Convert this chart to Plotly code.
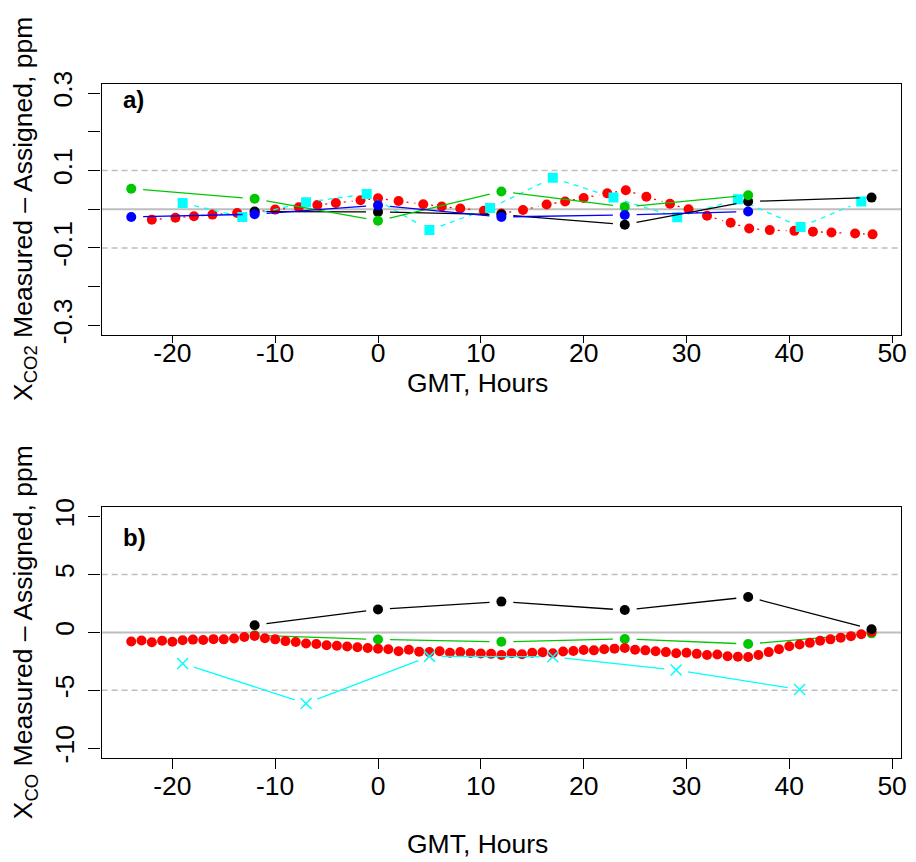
import math
import plotly.graph_objects as go

# ---------------- Panel a: CO2 differences (ppm) ----------------
red_a_hours = [-22.0, -19.7, -17.9, -16.1, -13.7, -12.0, -10.0, -7.7, -5.9, -4.1,
               -1.7, 0.0, 2.0, 4.4, 6.2, 8.0, 10.3, 12.0, 14.1, 16.4,
               18.2, 20.0, 22.3, 24.1, 26.1, 28.4, 30.2, 32.0, 34.3, 36.1,
               38.1, 40.5, 42.3, 44.1, 46.4, 48.1]
red_a_diff = [-0.027, -0.022, -0.018, -0.014, -0.010, -0.007, -0.001, 0.005, 0.011, 0.016,
              0.023, 0.028, 0.021, 0.013, 0.007, 0.002, -0.004, -0.011, -0.002, 0.012,
              0.020, 0.029, 0.041, 0.049, 0.032, 0.014, 0.000, -0.017, -0.035, -0.050,
              -0.054, -0.056, -0.058, -0.060, -0.063, -0.065]

cyan_a_hours = [-19.0, -13.2, -7.0, -1.1, 5.0, 10.9, 17.0, 22.9, 29.1, 35.0, 41.1, 47.0]
cyan_a_diff = [0.016, -0.020, 0.018, 0.039, -0.054, 0.003, 0.081, 0.030, -0.021, 0.026, -0.046, 0.020]

green_a_hours = [-24, -12, 0, 12, 24, 36]
green_a_diff = [0.053, 0.027, -0.030, 0.046, 0.006, 0.036]

blue_a_hours = [-24, -12, 0, 12, 24, 36]
blue_a_diff = [-0.020, -0.013, 0.010, -0.020, -0.015, -0.006]

black_a_hours = [-12, 0, 12, 24, 36, 48]
black_a_diff = [-0.006, -0.007, -0.014, -0.040, 0.020, 0.030]

# ---------------- Panel b: CO differences ----------------
red_b_hours = list(range(-24, 49))
red_b_diff = [-0.78, -0.70, -0.85, -0.72, -0.80, -0.68, -0.62, -0.66, -0.58, -0.60,
              -0.52, -0.40, -0.30, -0.50, -0.60, -0.75, -0.82, -0.95, -1.00, -1.10,
              -1.15, -1.22, -1.28, -1.35, -1.40, -1.45, -1.62, -1.50, -1.66, -1.70,
              -1.62, -1.75, -1.70, -1.78, -1.82, -1.85, -1.95, -1.80, -1.88, -1.76,
              -1.72, -1.80, -1.65, -1.60, -1.52, -1.55, -1.45, -1.40, -1.35, -1.50,
              -1.55, -1.62, -1.70, -1.80, -1.75, -1.85, -1.95, -1.90, -2.05, -2.10,
              -2.12, -1.95, -1.70, -1.45, -1.20, -1.05, -0.90, -0.72, -0.60, -0.45,
              -0.32, -0.15, 0.05]

black_b_hours = [-12, 0, 12, 24, 36, 48]
black_b_diff = [0.62, 1.99, 2.66, 1.93, 3.06, 0.28]

green_b_hours = [-12, 0, 12, 24, 36, 48]
green_b_diff = [-0.25, -0.61, -0.81, -0.56, -1.00, -0.08]

cyan_b_hours = [-19, -7, 5, 17, 29, 41]
cyan_b_diff = [-2.69, -6.13, -2.07, -2.10, -3.25, -4.93]

# Axis tick labels
x_ticks = [-20, -10, 0, 10, 20, 30, 40, 50]
x_ticktext = ["-20", "-10", "0", "10", "20", "30", "40", "50"]
ya_ticks = [-0.3, -0.1, 0.1, 0.3]
ya_ticktext = ["-0.3", "-0.1", "0.1", "0.3"]
ya_minor_ticks = [-0.2, 0.0, 0.2]
yb_ticks = [-10, -5, 0, 5, 10]
yb_ticktext = ["-10", "-5", "0", "5", "10"]

# ---------------- Layout geometry (pixels) ----------------
W, H = 916, 862
X_RANGE = [-26.88, 50.88]
YA_RANGE = [-0.324, 0.324]
YB_RANGE = [-10.8, 10.8]
PLOT_L, PLOT_R = 102.3, 907.1
A_TOP, A_BOT = 72.7, 330.0
B_TOP, B_BOT = 507.3, 764.0

FONT = "Liberation Sans, Arial, sans-serif"
FS = 26.5

RED = "#FF0000"
GREEN = "#00C800"
BLUE = "#0000FF"
CYAN = "#00FFFF"
BLACK = "#000000"
GREY = "#BEBEBE"

sx = (PLOT_R - PLOT_L) / (X_RANGE[1] - X_RANGE[0])
sy_a = (A_BOT - A_TOP) / (YA_RANGE[1] - YA_RANGE[0])
sy_b = (B_BOT - B_TOP) / (YB_RANGE[1] - YB_RANGE[0])


def gapped(xs, ys, sy, gap=12.0):
    """Connecting segments that stop short of each point (R's type='b')."""
    gx, gy = [], []
    for i in range(len(xs) - 1):
        dx = (xs[i + 1] - xs[i])
        dy = (ys[i + 1] - ys[i])
        d = math.hypot(dx * sx, dy * sy)
        if d <= 2 * gap:
            continue
        f = gap / d
        gx += [xs[i] + dx * f, xs[i + 1] - dx * f, None]
        gy += [ys[i] + dy * f, ys[i + 1] - dy * f, None]
    return gx, gy


fig = go.Figure()


def add_series(xs, ys, sy, color, axes, dash="solid", symbol="circle", size=10,
               gap=12.0, open_marker=False):
    xa, ya = axes
    gx, gy = gapped(xs, ys, sy, gap)
    fig.add_trace(go.Scatter(x=gx, y=gy, mode="lines", xaxis=xa, yaxis=ya,
                             line=dict(color=color, width=1.3, dash=dash),
                             hoverinfo="skip"))
    if open_marker:
        marker = dict(symbol=symbol, size=size, color=color,
                      line=dict(color=color, width=1.5))
    else:
        marker = dict(symbol=symbol, size=size, color=color, line=dict(width=0))
    fig.add_trace(go.Scatter(x=xs, y=ys, mode="markers", xaxis=xa, yaxis=ya,
                             marker=marker))


# Panel a
A = ("x", "y")
add_series(red_a_hours, red_a_diff, sy_a, RED, A, dash="2px,6px", gap=8.0)
add_series(cyan_a_hours, cyan_a_diff, sy_a, CYAN, A, dash="5px,5px", symbol="square", size=10)
add_series(black_a_hours, black_a_diff, sy_a, BLACK, A)
add_series(green_a_hours, green_a_diff, sy_a, GREEN, A)
add_series(blue_a_hours, blue_a_diff, sy_a, BLUE, A)

# Panel b
B = ("x2", "y2")
add_series(green_b_hours, green_b_diff, sy_b, GREEN, B)
add_series(red_b_hours, red_b_diff, sy_b, RED, B, dash="2px,6px", gap=8.0)
add_series(cyan_b_hours, cyan_b_diff, sy_b, CYAN, B, symbol="x-thin-open", size=11,
           open_marker=True)
add_series(black_b_hours, black_b_diff, sy_b, BLACK, B)

# Reference lines: zero (solid) and tolerance bands (dashed)
shapes = []
for yref, yv in (("y", 0.1), ("y", -0.1), ("y2", 5), ("y2", -5)):
    shapes.append(dict(type="line", xref=yref.replace("y", "x") + " domain", yref=yref,
                       x0=0, x1=1, y0=yv, y1=yv, layer="below",
                       line=dict(color=GREY, width=1.5, dash="6px,4px")))
for yref in ("y", "y2"):
    shapes.append(dict(type="line", xref=yref.replace("y", "x") + " domain", yref=yref,
                       x0=0, x1=1, y0=0, y1=0, layer="below",
                       line=dict(color=GREY, width=2)))


def px_x(p):
    return p / W


def px_y(p):
    return 1 - p / H


axis_common = dict(showline=True, linecolor=BLACK, linewidth=1.3, mirror=True,
                   ticks="outside", tickcolor=BLACK, tickwidth=1.3,
                   showgrid=False, zeroline=False,
                   tickfont=dict(family=FONT, size=FS, color=BLACK))

fig.update_layout(
    width=W, height=H,
    margin=dict(l=0, r=0, t=0, b=0),
    paper_bgcolor="white", plot_bgcolor="white",
    showlegend=False,
    shapes=shapes,
    xaxis=dict(domain=[px_x(PLOT_L), px_x(PLOT_R)], range=X_RANGE, anchor="y",
               tickvals=x_ticks, ticktext=x_ticktext, ticklen=7,
               ticklabelstandoff=-13, **axis_common),
    yaxis=dict(domain=[px_y(A_BOT), px_y(A_TOP)], range=YA_RANGE, anchor="x",
               tickvals=ya_ticks, ticktext=ya_ticktext, ticklen=12, tickangle=-90,
               ticklabelstandoff=6,
               minor=dict(tickmode="array", tickvals=ya_minor_ticks, ticks="outside",
                          ticklen=12, tickwidth=1.3, tickcolor=BLACK, showgrid=False),
               **axis_common),
    xaxis2=dict(domain=[px_x(PLOT_L), px_x(PLOT_R)], range=X_RANGE, anchor="y2",
                tickvals=x_ticks, ticktext=x_ticktext, ticklen=10,
                ticklabelstandoff=-5, **axis_common),
    yaxis2=dict(domain=[px_y(B_BOT), px_y(B_TOP)], range=YB_RANGE, anchor="x2",
                tickvals=yb_ticks, ticktext=yb_ticktext, ticklen=12, tickangle=-90,
                ticklabelstandoff=4, **axis_common),
)

title_font = dict(family=FONT, size=FS, color=BLACK)
annotations = [
    dict(text="a)", x=px_x(121.7), y=px_y(89), xref="paper", yref="paper",
         xanchor="left", yanchor="middle", showarrow=False,
         font=dict(family=FONT, size=24, color=BLACK, weight="bold")),
    dict(text="b)", x=px_x(121.7), y=px_y(538), xref="paper", yref="paper",
         xanchor="left", yanchor="middle", showarrow=False,
         font=dict(family=FONT, size=24, color=BLACK, weight="bold")),
    dict(text="GMT, Hours", x=px_x(481), y=px_y(380), xref="paper", yref="paper",
         xanchor="center", yanchor="middle", showarrow=False, font=title_font),
    dict(text="GMT, Hours", x=px_x(481), y=px_y(853), xref="paper", yref="paper",
         xanchor="center", yanchor="middle", showarrow=False, font=title_font),
    dict(text="X<sub>CO2</sub> Measured \u2013 Assigned, ppm", x=px_x(25),
         y=px_y((A_TOP + A_BOT) / 2), xref="paper", yref="paper", textangle=-90,
         xanchor="center", yanchor="middle", showarrow=False, font=title_font),
    dict(text="X<sub>CO</sub> Measured \u2013 Assigned, ppm", x=px_x(26),
         y=px_y((B_TOP + B_BOT) / 2), xref="paper", yref="paper", textangle=-90,
         xanchor="center", yanchor="middle", showarrow=False, font=title_font),
]
fig.update_layout(annotations=annotations)

fig.write_html("out.html")
